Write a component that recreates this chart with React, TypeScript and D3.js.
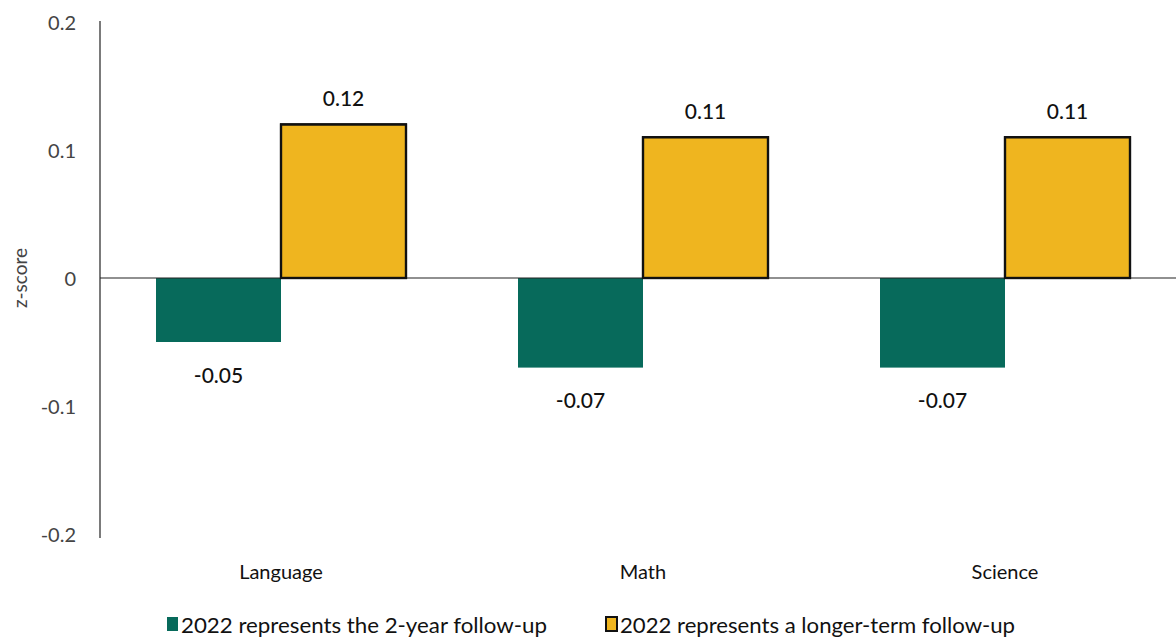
import React from "react";
import * as d3 from "d3";

const categories = ["Language", "Math", "Science"];
const seriesNames = [
  "2022 represents the 2-year follow-up",
  "2022 represents a longer-term follow-up",
];
const twoYear = [-0.05, -0.07, -0.07];
const longerTerm = [0.12, 0.11, 0.11];
const yTicks = [0.2, 0.1, 0, -0.1, -0.2];

const W = 1176;
const H = 637;
const GREEN = "#076a5b";
const YELLOW = "#efb51f";
const FONT = "Lato, 'Open Sans', sans-serif";

// plain hyphen for negatives
const fmt = (f: string) => (v: number) => d3.format(f)(v).replace("\u2212", "-");

export default function App() {
  const y = d3.scaleLinear().domain([-0.2, 0.2]).range([534, 22]);
  const x = d3.scaleBand<string>().domain(categories).range([100, 1186]).paddingInner(0).paddingOuter(0);
  const step = x.bandwidth();
  const barW = 125;
  const sub = d3.scaleBand<number>().domain([0, 1]).range([0, barW * 2]);

  const series = [twoYear, longerTerm];
  const tickFmt = fmt(".1f");
  const valFmt = fmt(".2f");

  return (
    <svg width={W} height={H} style={{ position: "absolute", left: 0, top: 0, background: "#fff" }}>
      {/* y axis */}
      <line x1={100} x2={100} y1={21} y2={538} stroke="#222" strokeWidth={1.2} />
      {yTicks.map((t) => (
        <text key={t} x={76} y={y(t)} textAnchor="end" dominantBaseline="central"
          fontFamily={FONT} fontSize={20} fill="#444">
          {t === 0 ? "0" : tickFmt(t)}
        </text>
      ))}
      <text transform={`translate(19,${y(0)}) rotate(-90)`} textAnchor="middle" dominantBaseline="central"
        fontFamily={FONT} fontSize={19} fill="#444">z-score</text>

      {/* bars */}
      {categories.map((c, i) => {
        const cx = (x(c) as number) + step / 2;
        const left = cx - barW;
        return (
          <g key={c}>
            {series.map((s, k) => {
              const v = s[i];
              const bx = left + (sub(k) as number);
              const y0 = y(Math.max(0, v));
              const h = Math.abs(y(v) - y(0));
              return (
                <rect key={k} x={bx} y={y0} width={sub.bandwidth()} height={h}
                  fill={k === 0 ? GREEN : YELLOW}
                  stroke={k === 0 ? "none" : "#111"} strokeWidth={k === 0 ? 0 : 2.2} />
              );
            })}
          </g>
        );
      })}

      {/* zero line */}
      <line x1={100} x2={W} y1={y(0)} y2={y(0)} stroke="#222" strokeWidth={1.2} />

      {/* yellow outlines drawn over the zero line */}
      {categories.map((c, i) => {
        const cx = (x(c) as number) + step / 2;
        const bx = cx - barW + (sub(1) as number);
        const v = longerTerm[i];
        return (
          <rect key={c} x={bx} y={y(v)} width={sub.bandwidth()} height={y(0) - y(v)}
            fill="none" stroke="#111" strokeWidth={2.2} />
        );
      })}

      {/* value labels */}
      {categories.map((c, i) => {
        const cx = (x(c) as number) + step / 2;
        return series.map((s, k) => {
          const v = s[i];
          const lx = cx - barW + (sub(k) as number) + sub.bandwidth() / 2;
          const ly = v >= 0 ? y(v) - 27 : y(v) + 32;
          return (
            <text key={`${c}-${k}`} x={lx} y={ly} textAnchor="middle" dominantBaseline="central"
              fontFamily={FONT} fontSize={21} fontWeight={500} fill="#111">
              {valFmt(v)}
            </text>
          );
        });
      })}

      {/* category labels */}
      {categories.map((c) => (
        <text key={c} x={(x(c) as number) + step / 2} y={571} textAnchor="middle" dominantBaseline="central"
          fontFamily={FONT} fontSize={20} fill="#111">{c}</text>
      ))}

      {/* legend */}
      <g fontFamily={FONT} fontSize={21} fill="#111">
        <rect x={167} y={617} width={11} height={14} fill={GREEN} />
        <text x={181} y={624} dominantBaseline="central" textLength={366} lengthAdjust="spacingAndGlyphs">{seriesNames[0]}</text>
        <rect x={606} y={617} width={11} height={14} fill={YELLOW} stroke="#111" strokeWidth={2} />
        <text x={620} y={624} dominantBaseline="central" textLength={395} lengthAdjust="spacingAndGlyphs">{seriesNames[1]}</text>
      </g>
    </svg>
  );
}
